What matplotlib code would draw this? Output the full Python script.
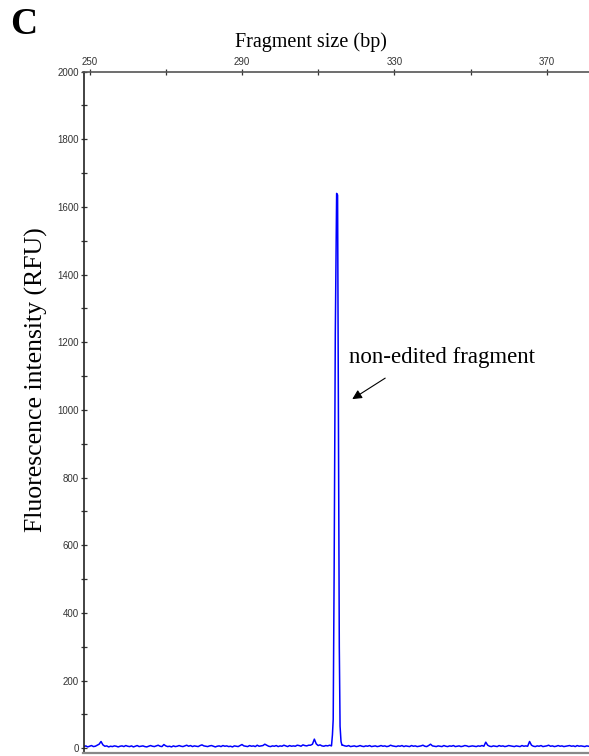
import numpy as np
import matplotlib
matplotlib.use("Agg")
import matplotlib.pyplot as plt
from matplotlib.ticker import MultipleLocator, FixedLocator, FixedFormatter

# Electropherogram trace: fragment size (bp) vs fluorescence (RFU)
left_sizes = np.arange(248.5, 313.01, 0.5)
left_rfu = [
    5, 7, 4, 6, 8, 5, 6, 9, 12, 20,
    10, 6, 7, 4, 6, 5, 7, 6, 4, 6,
    7, 5, 8, 6, 5, 7, 4, 6, 8, 5,
    6, 7, 5, 4, 6, 8, 6, 5, 7, 9,
    6, 5, 11, 7, 5, 6, 4, 7, 5, 6,
    8, 6, 5, 7, 9, 6, 8, 5, 7, 6,
    5, 8, 10, 7, 6, 5, 7, 8, 6, 4,
    6, 7, 5, 8, 6, 7, 5, 6, 4, 7,
    6, 5, 8, 11, 7, 6, 5, 8, 6, 7,
    5, 9, 6, 7, 8, 12, 9, 6, 5, 7,
    6, 8, 5, 7, 6, 9, 7, 5, 8, 6,
    7, 6, 9, 8, 6, 10, 8, 7, 9, 9,
    12, 27, 13, 8, 10, 7, 6, 8, 7, 9,
]

peak_sizes = [313.5, 313.75, 313.95, 314.2, 314.5, 314.85, 315.1,
              315.35, 315.55, 315.75, 316.0, 316.25]
peak_rfu = [7, 40, 85, 530, 1225, 1640, 1635, 870, 300, 65, 20, 9]

right_sizes = np.arange(316.5, 381.01, 0.5)
right_rfu = [
    9, 7, 6, 8, 5, 6, 7, 5, 6, 8,
    6, 5, 7, 6, 8, 5, 6, 7, 5, 6,
    8, 6, 7, 5, 6, 9, 7, 6, 5, 7,
    6, 8, 5, 7, 6, 5, 8, 6, 7, 5,
    6, 7, 9, 6, 5, 8, 12, 7, 6, 5,
    7, 6, 5, 8, 6, 5, 7, 6, 8, 5,
    6, 7, 5, 6, 8, 7, 5, 6, 7, 6,
    5, 7, 6, 8, 6, 18, 9, 6, 5, 7,
    6, 5, 8, 6, 7, 5, 6, 8, 7, 6,
    5, 7, 6, 5, 8, 6, 7, 6, 20, 9,
    6, 5, 7, 6, 8, 5, 6, 7, 9, 6,
    7, 5, 6, 8, 6, 7, 5, 6, 7, 8,
    6, 7, 5, 8, 6, 7, 6, 5, 7, 6,
]

size_ticks = [250, 270, 290, 310, 330, 350, 370]
size_labels = ["250", "", "290", "", "330", "", "370"]
rfu_ticks = [0, 200, 400, 600, 800, 1000, 1200, 1400, 1600, 1800, 2000]

sizes = np.concatenate([left_sizes, peak_sizes, right_sizes])
rfu = np.concatenate([left_rfu, peak_rfu, right_rfu])

W, H = 589, 756
fig = plt.figure(figsize=(W / 100, H / 100), dpi=100)
ax = fig.add_axes([83.5 / W, 1 - 753 / H, 1 - 83.5 / W, (753 - 71.6) / H])

ax.plot(sizes, rfu, color="#0000ff", lw=1.1)

ax.set_xlim(248.4, 381.1)
ax.set_ylim(-14, 2000)

ax.spines["right"].set_visible(False)
ax.spines["top"].set_color("#555555")
ax.spines["top"].set_linewidth(1.2)
ax.spines["bottom"].set_color("#888888")
ax.spines["bottom"].set_linewidth(1.6)
ax.spines["left"].set_color("#222222")
ax.spines["left"].set_linewidth(1.2)

ax.xaxis.tick_top()
ax.xaxis.set_major_locator(FixedLocator(size_ticks))
ax.xaxis.set_major_formatter(FixedFormatter(size_labels))
ax.yaxis.set_major_locator(FixedLocator(rfu_ticks))
ax.yaxis.set_minor_locator(MultipleLocator(100))

tick_font = dict(labelsize=7, labelcolor="#333333")
ax.tick_params(axis="x", which="major", direction="inout", length=5, width=0.9,
               color="#333333", pad=1, **tick_font)
ax.tick_params(axis="y", which="major", direction="inout", length=5, width=0.9,
               color="#333333", pad=1, **tick_font)
ax.tick_params(axis="y", which="minor", direction="inout", length=5, width=0.9,
               color="#333333")
for lbl in ax.get_xticklabels() + ax.get_yticklabels():
    lbl.set_family("Liberation Sans")

serif = "Liberation Serif"
fig.text(10 / W, 1 - 25 / H, "C", family=serif, fontweight="bold", fontsize=27,
         va="center", ha="left")
fig.text(311 / W, 1 - 42 / H, "Fragment size (bp)", family=serif, fontsize=14.5,
         va="center", ha="center")
fig.text(36 / W, 1 - 380 / H, "Fluorescence intensity (RFU)", family=serif,
         fontsize=18.5, rotation=90, va="center", ha="center")

ax.text(342.5, 1154, "non-edited fragment", family=serif, fontsize=16.5,
        ha="center", va="center")
ax.annotate("", xy=(318.95, 1032), xytext=(327.6, 1094),
            arrowprops=dict(arrowstyle="-|>", color="black", lw=0.8,
                            mutation_scale=14, shrinkA=0, shrinkB=0))

fig.savefig("out.png", dpi=100)
